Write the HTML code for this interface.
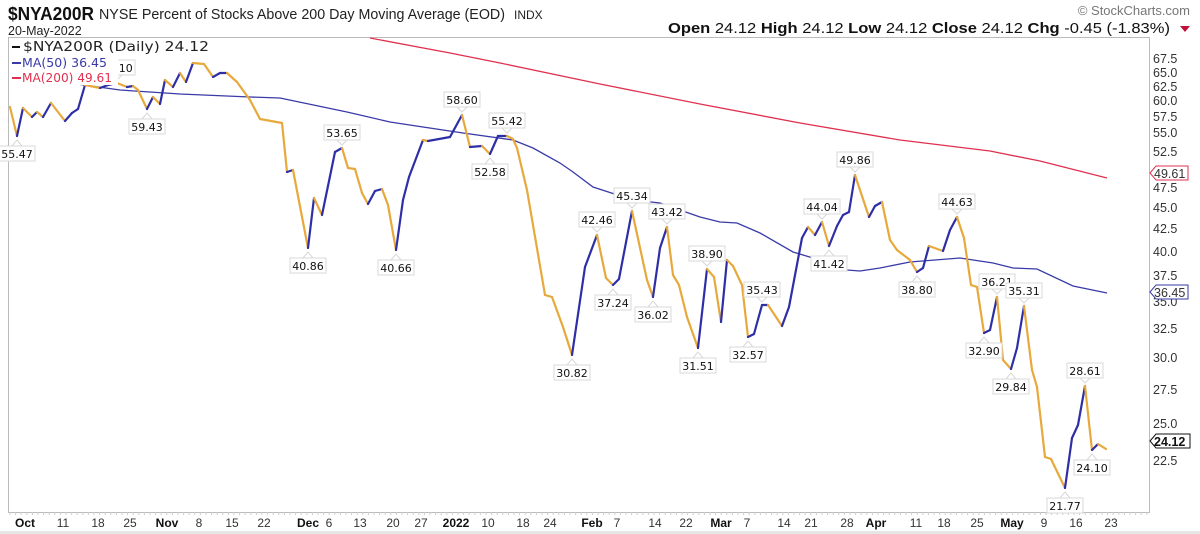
<!DOCTYPE html>
<html><head><meta charset="utf-8">
<style>
html,body{margin:0;padding:0;background:#fff;}
svg{display:block;font-family:"DejaVu Sans","Liberation Sans",sans-serif;}
.ax{font-family:"Liberation Sans",sans-serif;font-size:12.5px;fill:#333;}
.lb text{font-size:11px;fill:#111;text-anchor:middle;}
.lb rect{fill:#fff;stroke:#d8d8d8;stroke-width:1;}
.lb path{fill:#fff;stroke:#d8d8d8;stroke-width:1;}
</style></head>
<body>
<svg id="s" width="1200" height="534" viewBox="0 0 1200 534" xmlns="http://www.w3.org/2000/svg">
<rect width="1200" height="534" fill="#fff"/>
<!-- header -->
<text x="8" y="20" font-family="Liberation Sans, sans-serif" font-size="18" font-weight="bold" fill="#111" textLength="86" lengthAdjust="spacingAndGlyphs">$NYA200R</text>
<text x="99" y="19" font-family="Liberation Sans, sans-serif" font-size="14.5" fill="#222" textLength="406" lengthAdjust="spacingAndGlyphs">NYSE Percent of Stocks Above 200 Day Moving Average (EOD)</text>
<text x="514" y="19" font-family="Liberation Sans, sans-serif" font-size="12" fill="#222">INDX</text>
<text x="8" y="35" font-family="Liberation Sans, sans-serif" font-size="12.5" fill="#222">20-May-2022</text>
<text x="1190" y="15" text-anchor="end" font-family="Liberation Sans, sans-serif" font-size="13" fill="#777">© StockCharts.com</text>
<text x="668" y="33" font-family="Liberation Sans, sans-serif" font-size="14.5" fill="#111" textLength="502" lengthAdjust="spacingAndGlyphs"><tspan font-weight="bold">Open</tspan> 24.12 <tspan font-weight="bold">High</tspan> 24.12 <tspan font-weight="bold">Low</tspan> 24.12 <tspan font-weight="bold">Close</tspan> 24.12 <tspan font-weight="bold">Chg</tspan> -0.45 (-1.83%)</text>
<path d="M1180 26 L1190 26 L1185 32 Z" fill="#c0103a"/>
<!-- plot frame -->
<rect x="8.5" y="37.5" width="1141" height="475" fill="#fff" stroke="#bbb"/>
<g id="ticks"></g>
<!-- MA200 -->
<polyline fill="none" stroke="#e0304f" stroke-width="1.3" points="370,38 450,53 500,63 600,84 700,104 800,123 900,140 990,151 1040,161 1107,178"/>
<!-- MA50 -->
<polyline fill="none" stroke="#3a3aa8" stroke-width="1.3" points="77,84 120,90 180,94 250,97 280,98 347,112 390,122 423,127 463,133 513,140 533,148 560,163 573,172 593,187 633,200 660,203 700,217 720,222 737,223 760,233 793,252 813,258 847,270 860,271 880,268 910,262 960,258 993,263 1013,268 1037,269 1073,286 1107,293"/>
<g id="price"></g>
<!-- labels -->
<g class="lb" transform="translate(117,83)"><path d="M-5,-8 L0,-3 L5,-8"/><rect x="-18" y="-23" width="36" height="15"/><text y="-11">63.10</text></g>
<g class="lb" transform="translate(17,136)"><path d="M-5,10 L0,4 L5,10"/><rect x="-18" y="10" width="36" height="15"/><text y="22">55.47</text></g>
<g class="lb" transform="translate(147,109)"><path d="M-5,10 L0,4 L5,10"/><rect x="-18" y="10" width="36" height="15"/><text y="22">59.43</text></g>
<g class="lb" transform="translate(308,248)"><path d="M-5,10 L0,4 L5,10"/><rect x="-18" y="10" width="36" height="15"/><text y="22">40.86</text></g>
<g class="lb" transform="translate(342,148)"><path d="M-5,-8 L0,-3 L5,-8"/><rect x="-18" y="-23" width="36" height="15"/><text y="-11">53.65</text></g>
<g class="lb" transform="translate(396,250)"><path d="M-5,10 L0,4 L5,10"/><rect x="-18" y="10" width="36" height="15"/><text y="22">40.66</text></g>
<g class="lb" transform="translate(462,115)"><path d="M-5,-8 L0,-3 L5,-8"/><rect x="-18" y="-23" width="36" height="15"/><text y="-11">58.60</text></g>
<g class="lb" transform="translate(490,154)"><path d="M-5,10 L0,4 L5,10"/><rect x="-18" y="10" width="36" height="15"/><text y="22">52.58</text></g>
<g class="lb" transform="translate(507,136)"><path d="M-5,-8 L0,-3 L5,-8"/><rect x="-18" y="-23" width="36" height="15"/><text y="-11">55.42</text></g>
<g class="lb" transform="translate(572,355)"><path d="M-5,10 L0,4 L5,10"/><rect x="-18" y="10" width="36" height="15"/><text y="22">30.82</text></g>
<g class="lb" transform="translate(597,235)"><path d="M-5,-8 L0,-3 L5,-8"/><rect x="-18" y="-23" width="36" height="15"/><text y="-11">42.46</text></g>
<g class="lb" transform="translate(613,285)"><path d="M-5,10 L0,4 L5,10"/><rect x="-18" y="10" width="36" height="15"/><text y="22">37.24</text></g>
<g class="lb" transform="translate(632,211)"><path d="M-5,-8 L0,-3 L5,-8"/><rect x="-18" y="-23" width="36" height="15"/><text y="-11">45.34</text></g>
<g class="lb" transform="translate(653,297)"><path d="M-5,10 L0,4 L5,10"/><rect x="-18" y="10" width="36" height="15"/><text y="22">36.02</text></g>
<g class="lb" transform="translate(667,227)"><path d="M-5,-8 L0,-3 L5,-8"/><rect x="-18" y="-23" width="36" height="15"/><text y="-11">43.42</text></g>
<g class="lb" transform="translate(698,348)"><path d="M-5,10 L0,4 L5,10"/><rect x="-18" y="10" width="36" height="15"/><text y="22">31.51</text></g>
<g class="lb" transform="translate(707,269)"><path d="M-5,-8 L0,-3 L5,-8"/><rect x="-18" y="-23" width="36" height="15"/><text y="-11">38.90</text></g>
<g class="lb" transform="translate(748,337)"><path d="M-5,10 L0,4 L5,10"/><rect x="-18" y="10" width="36" height="15"/><text y="22">32.57</text></g>
<g class="lb" transform="translate(762,305)"><path d="M-5,-8 L0,-3 L5,-8"/><rect x="-18" y="-23" width="36" height="15"/><text y="-11">35.43</text></g>
<g class="lb" transform="translate(822,222)"><path d="M-5,-8 L0,-3 L5,-8"/><rect x="-18" y="-23" width="36" height="15"/><text y="-11">44.04</text></g>
<g class="lb" transform="translate(829,246)"><path d="M-5,10 L0,4 L5,10"/><rect x="-18" y="10" width="36" height="15"/><text y="22">41.42</text></g>
<g class="lb" transform="translate(855,175)"><path d="M-5,-8 L0,-3 L5,-8"/><rect x="-18" y="-23" width="36" height="15"/><text y="-11">49.86</text></g>
<g class="lb" transform="translate(917,272)"><path d="M-5,10 L0,4 L5,10"/><rect x="-18" y="10" width="36" height="15"/><text y="22">38.80</text></g>
<g class="lb" transform="translate(957,217)"><path d="M-5,-8 L0,-3 L5,-8"/><rect x="-18" y="-23" width="36" height="15"/><text y="-11">44.63</text></g>
<g class="lb" transform="translate(984,333)"><path d="M-5,10 L0,4 L5,10"/><rect x="-18" y="10" width="36" height="15"/><text y="22">32.90</text></g>
<g class="lb" transform="translate(997,297)"><path d="M-5,-8 L0,-3 L5,-8"/><rect x="-18" y="-23" width="36" height="15"/><text y="-11">36.21</text></g>
<g class="lb" transform="translate(1024,306)"><path d="M-5,-8 L0,-3 L5,-8"/><rect x="-18" y="-23" width="36" height="15"/><text y="-11">35.31</text></g>
<g class="lb" transform="translate(1011,369)"><path d="M-5,10 L0,4 L5,10"/><rect x="-18" y="10" width="36" height="15"/><text y="22">29.84</text></g>
<g class="lb" transform="translate(1065,488)"><path d="M-5,10 L0,4 L5,10"/><rect x="-18" y="10" width="36" height="15"/><text y="22">21.77</text></g>
<g class="lb" transform="translate(1085,386)"><path d="M-5,-8 L0,-3 L5,-8"/><rect x="-18" y="-23" width="36" height="15"/><text y="-11">28.61</text></g>
<g class="lb" transform="translate(1092,450)"><path d="M-5,10 L0,4 L5,10"/><rect x="-18" y="10" width="36" height="15"/><text y="22">24.10</text></g>
<!-- legend -->
<rect x="10" y="39" width="200" height="16" fill="#fff"/>
<rect x="10" y="55" width="108" height="30" fill="#fff"/>
<line x1="12" y1="47" x2="20" y2="47" stroke="#111" stroke-width="2"/>
<text x="23" y="51" font-size="13.5" fill="#222" textLength="186" lengthAdjust="spacingAndGlyphs">$NYA200R (Daily) 24.12</text>
<line x1="12" y1="63" x2="21" y2="63" stroke="#3a3aa8" stroke-width="2"/>
<text x="22" y="67" font-size="12.5" fill="#3a3aa8" textLength="85" lengthAdjust="spacingAndGlyphs">MA(50) 36.45</text>
<line x1="12" y1="78" x2="21" y2="78" stroke="#e0304f" stroke-width="2"/>
<text x="22" y="82" font-size="12.5" fill="#e0304f" textLength="90" lengthAdjust="spacingAndGlyphs">MA(200) 49.61</text>
<!-- right axis -->
<g class="ax">
<text x="1153" y="63">67.5</text><text x="1153" y="77">65.0</text><text x="1153" y="91">62.5</text><text x="1153" y="105">60.0</text><text x="1153" y="121">57.5</text><text x="1153" y="137">55.0</text><text x="1153" y="156">52.5</text><text x="1153" y="192">47.5</text><text x="1153" y="212">45.0</text><text x="1153" y="233">42.5</text><text x="1153" y="256">40.0</text><text x="1153" y="280">37.5</text><text x="1153" y="306">35.0</text><text x="1153" y="333">32.5</text><text x="1153" y="362">30.0</text><text x="1153" y="394">27.5</text><text x="1153" y="428">25.0</text><text x="1153" y="465">22.5</text>
</g>
<path d="M1150,173 L1156,166 L1188,166 L1188,180 L1156,180 Z" fill="#fff" stroke="#e0304f"/>
<text x="1154" y="178" class="ax" fill="#333">49.61</text>
<path d="M1150,292 L1156,285 L1188,285 L1188,299 L1156,299 Z" fill="#fff" stroke="#3a3aa8"/>
<text x="1154" y="297" class="ax">36.45</text>
<path d="M1150,441 L1156,434 L1190,434 L1190,448 L1156,448 Z" fill="#fff" stroke="#111"/>
<text x="1154" y="446" font-family="Liberation Sans, sans-serif" font-size="12.5" font-weight="bold" fill="#111">24.12</text>
<!-- x axis -->
<g font-family="Liberation Sans, sans-serif" font-size="12" fill="#333" text-anchor="middle">
<text x="25" y="527" font-weight="bold" fill="#111">Oct</text><text x="63" y="527">11</text><text x="98" y="527">18</text><text x="130" y="527">25</text>
<text x="167" y="527" font-weight="bold" fill="#111">Nov</text><text x="199" y="527">8</text><text x="232" y="527">15</text><text x="264" y="527">22</text>
<text x="308" y="527" font-weight="bold" fill="#111">Dec</text><text x="329" y="527">6</text><text x="360" y="527">13</text><text x="393" y="527">20</text><text x="421" y="527">27</text>
<text x="456" y="527" font-weight="bold" fill="#111">2022</text><text x="488" y="527">10</text><text x="523" y="527">18</text><text x="550" y="527">24</text>
<text x="592" y="527" font-weight="bold" fill="#111">Feb</text><text x="617" y="527">7</text><text x="655" y="527">14</text><text x="686" y="527">22</text>
<text x="721" y="527" font-weight="bold" fill="#111">Mar</text><text x="747" y="527">7</text><text x="784" y="527">14</text><text x="811" y="527">21</text><text x="847" y="527">28</text>
<text x="876" y="527" font-weight="bold" fill="#111">Apr</text><text x="916" y="527">11</text><text x="944" y="527">18</text><text x="977" y="527">25</text>
<text x="1012" y="527" font-weight="bold" fill="#111">May</text><text x="1044" y="527">9</text><text x="1076" y="527">16</text><text x="1111" y="527">23</text>
</g>
<rect x="0" y="531" width="1200" height="3" fill="#e6e6e6"/>
</svg>
<script>
var P=[[10,107],[17,136],[23,108],[32,117],[37,112],[43,117],[51,103],[65,121],[72,113],[78,109],[85,85],[100,88],[108,85],[117,83],[127,87],[133,86],[138,90],[147,109],[153,97],[160,104],[165,80],[173,87],[180,73],[186,82],[193,63],[204,64],[213,77],[220,73],[227,73],[237,82],[250,100],[260,119],[282,123],[287,172],[293,170],[308,248],[314,198],[322,215],[335,152],[342,148],[348,168],[355,169],[362,193],[368,204],[375,191],[382,189],[388,205],[396,250],[403,200],[409,177],[423,140],[428,141],[450,137],[462,115],[470,147],[482,146],[490,154],[498,136],[507,136],[513,139],[517,148],[527,190],[545,295],[552,297],[563,327],[572,355],[585,267],[597,235],[606,278],[613,285],[619,279],[632,211],[647,280],[653,297],[660,248],[667,227],[673,275],[679,285],[687,317],[698,348],[707,269],[714,277],[721,322],[727,260],[733,266],[742,285],[748,337],[754,334],[762,305],[768,305],[782,326],[789,307],[802,238],[808,227],[815,235],[822,222],[829,246],[837,226],[843,215],[849,212],[855,175],[869,217],[875,206],[882,202],[890,240],[897,250],[910,260],[917,272],[923,268],[929,246],[943,251],[950,230],[957,217],[964,238],[971,285],[977,287],[984,333],[990,330],[997,297],[1003,360],[1011,369],[1017,348],[1024,306],[1032,370],[1037,387],[1045,457],[1051,459],[1065,488],[1072,438],[1078,425],[1085,386],[1092,450],[1098,444],[1106,449]];
var ns="http://www.w3.org/2000/svg",g=document.getElementById("price");
for(var i=1;i<P.length;i++){var l=document.createElementNS(ns,"line");l.setAttribute("x1",P[i-1][0]);l.setAttribute("y1",P[i-1][1]);l.setAttribute("x2",P[i][0]);l.setAttribute("y2",P[i][1]);l.setAttribute("stroke",P[i][1]<=P[i-1][1]?"#2e2fa6":"#e7a93c");l.setAttribute("stroke-width","2.2");l.setAttribute("stroke-linecap","round");g.appendChild(l);}
var t=document.getElementById("ticks");
for(var x=10;x<1150;x+=5.6){var k=document.createElementNS(ns,"line");k.setAttribute("x1",x);k.setAttribute("x2",x);k.setAttribute("y1",512);k.setAttribute("y2",515);k.setAttribute("stroke","#ccc");t.appendChild(k);}
</script>
</body></html>
